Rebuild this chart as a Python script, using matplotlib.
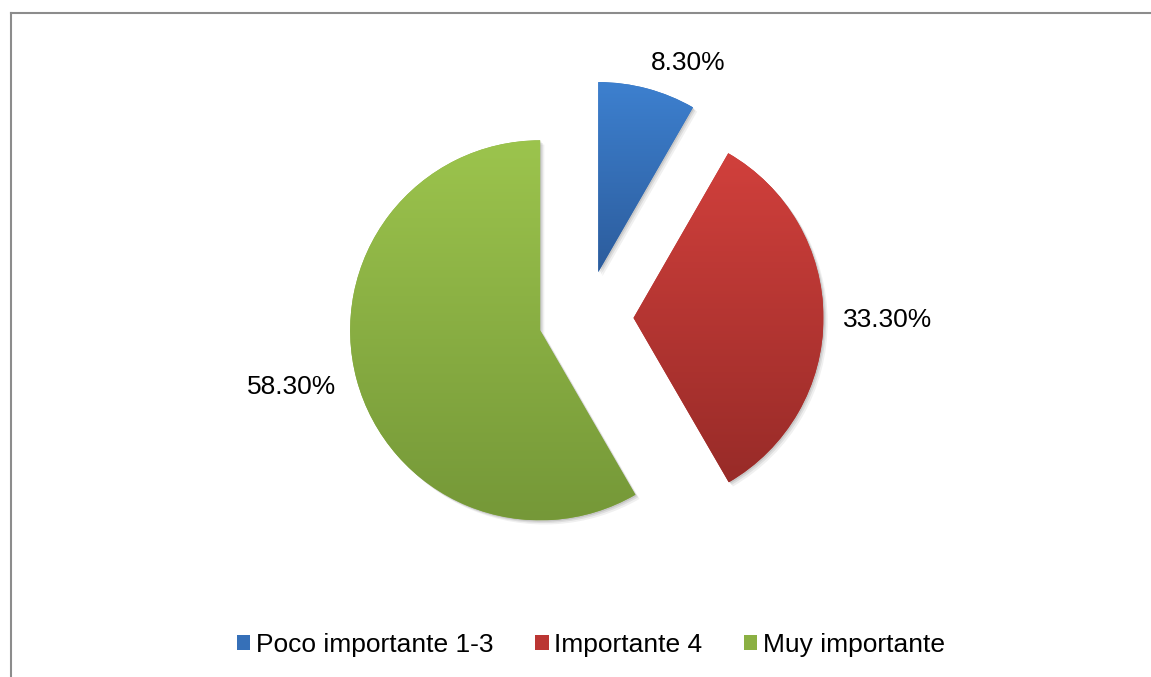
import numpy as np
import matplotlib.pyplot as plt
from matplotlib.patches import Patch, Wedge
from matplotlib.lines import Line2D
from matplotlib.colors import LinearSegmentedColormap
import matplotlib.transforms as mtransforms

plt.rcParams['font.family'] = ['Liberation Sans', 'DejaVu Sans']

# data
categories = ['Poco importante 1-3', 'Importante 4', 'Muy importante']
values = [8.3, 33.3, 58.3]
labels = ['8.30%', '33.30%', '58.30%']

# colours (top, bottom of the gradient)
tops = ['#3d80cf', '#d1403c', '#9cc44d']
bottoms = ['#2c5c9c', '#982b28', '#759838']
mids = ['#3670b8', '#bb3633', '#8bb043']

fig = plt.figure(figsize=(11.51, 6.77), dpi=100)
ax = fig.add_axes([0, 0, 1, 1])
unit = 190.0
cx, cy = 586.0, 318.0
ax.set_aspect('equal')
ax.axis('off')

wedges, _ = ax.pie(values, startangle=90, counterclock=False,
                   explode=[0.25, 0.25, 0.25], radius=1.0,
                   colors=mids, wedgeprops=dict(linewidth=0))

for i, w in enumerate(wedges):
    # soft shadow
    for k, a in [(0.022, 0.06), (0.014, 0.08), (0.007, 0.10)]:
        sh = Wedge(w.center, w.r, w.theta1, w.theta2,
                   facecolor='black', alpha=a, linewidth=0, zorder=0.5)
        sh.set_transform(mtransforms.Affine2D().translate(k, -k) + ax.transData)
        ax.add_patch(sh)
    w.set_zorder(1)
    # vertical gradient clipped to the wedge
    path = w.get_path().transformed(w.get_patch_transform())
    ext = path.get_extents()
    cmap = LinearSegmentedColormap.from_list('g%d' % i, [bottoms[i], tops[i]])
    grad = np.linspace(0, 1, 256).reshape(-1, 1)
    im = ax.imshow(grad, cmap=cmap, origin='lower', aspect='auto',
                   extent=[ext.x0, ext.x1, ext.y0, ext.y1], zorder=2)
    im.set_clip_path(w)

ax.set_xlim(-cx / unit, (1151 - cx) / unit)
ax.set_ylim(-(677 - cy) / unit, cy / unit)

label_pos = [(0.537, 1.342), (1.59, -0.011), (-1.547, -0.363)]
for lab, (x, y) in zip(labels, label_pos):
    ax.text(x, y, lab, fontsize=19, ha='center', va='center', color='#000000')

handles = [Patch(facecolor=mids[i], edgecolor='none') for i in range(3)]
fig.legend(handles, categories, loc='center', bbox_to_anchor=(591 / 1151, 1 - 645 / 677),
           ncol=3, frameon=False, fontsize=19, handlelength=0.5, handleheight=0.5,
           handletextpad=0.2, columnspacing=1.6)

# outer frame (top and left edges visible)
fig.add_artist(Line2D([10.5 / 1151, 1], [1 - 12.5 / 677, 1 - 12.5 / 677],
                      color='#8c8c8c', linewidth=1.5))
fig.add_artist(Line2D([10.5 / 1151, 10.5 / 1151], [0, 1 - 12.5 / 677],
                      color='#8c8c8c', linewidth=1.5))

fig.savefig('out.png', dpi=100, facecolor='white')
